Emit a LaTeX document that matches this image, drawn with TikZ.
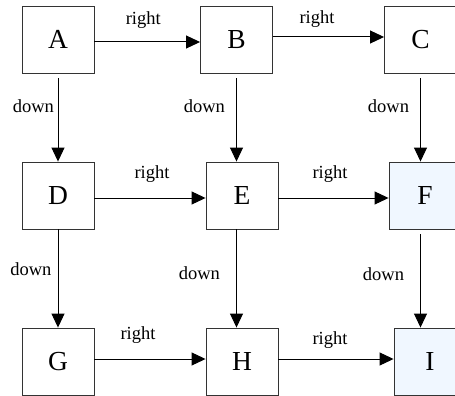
\documentclass[tikz,border=0pt]{standalone}
\usepackage{fontspec}
\setmainfont{Liberation Serif}
\usepackage{xcolor}
\usetikzlibrary{arrows.meta}

\definecolor{paleblue}{HTML}{F0F7FF}

\begin{document}
\begin{tikzpicture}[x=1pt, y=-1pt,
    box/.style={draw=black!80, line width=0.9pt, minimum width=72pt, minimum height=67pt,
      inner sep=0pt, font=\fontsize{27.5}{31}\selectfont},
    lbl/.style={inner sep=0pt, font=\fontsize{18.5}{21}\selectfont},
    arr/.style={line width=1pt, -{Triangle[length=14pt, width=13pt]}}]
  \useasboundingbox (0,0) rectangle (455,396);

  % Boxes
  \node[box] (A) at (58,39.5) {A};
  \node[box] (B) at (236.5,39.5) {B};
  \node[box] (C) at (420.5,39.5) {C};
  \node[box] (D) at (58,195.5) {D};
  \node[box] (E) at (242,195.5) {E};
  \node[box, fill=paleblue] (F) at (425,195.5) {F};
  \node[box] (G) at (58,361.5) {G};
  \node[box] (H) at (242,361.5) {H};
  \node[box, fill=paleblue] (I) at (430,361.5) {I};

  % Right arrows
  \draw[arr] ([yshift=-2.5pt]A.east) -- ([yshift=-2.5pt]B.west)
    node[lbl, midway, above=13pt, xshift=-4pt] {right};
  \draw[arr] ([yshift=2.5pt]B.east) -- ([yshift=2.5pt]C.west)
    node[lbl, midway, above=9pt, xshift=-11.5pt] {right};
  \draw[arr] ([yshift=-2.5pt]D.east) -- ([yshift=-2.5pt]E.west)
    node[lbl, midway, above=15pt, xshift=2pt] {right};
  \draw[arr] ([yshift=-2.5pt]E.east) -- ([yshift=-2.5pt]F.west)
    node[lbl, midway, above=15pt, xshift=-3.5pt] {right};
  \draw[arr] ([yshift=2.5pt]G.east) -- ([yshift=2.5pt]H.west)
    node[lbl, midway, above=15.5pt, xshift=-12pt] {right};
  \draw[arr] ([yshift=2.5pt]H.east) -- ([yshift=2.5pt]I.west)
    node[lbl, midway, above=10pt, xshift=-6pt] {right};

  % Down arrows
  \draw[arr] ([yshift=-5pt]A.south) -- (D.north)
    node[lbl, pos=0.33, left=3.5pt] {down};
  \draw[arr] ([yshift=-5pt]B.south) -- (B.south |- E.north)
    node[lbl, pos=0.33, left=11pt] {down};
  \draw[arr] ([yshift=-5pt]C.south) -- (C.south |- F.north)
    node[lbl, pos=0.33, left=11pt] {down};
  \draw[arr] (D.south) -- (G.north)
    node[lbl, pos=0.40, left=6pt] {down};
  \draw[arr] (B.south |- E.south) -- (B.south |- H.north)
    node[lbl, pos=0.45, left=16pt] {down};
  \draw[arr] ([yshift=-5pt]C.south |- F.south) -- (C.south |- I.north)
    node[lbl, pos=0.43, left=16pt] {down};
\end{tikzpicture}
\end{document}
